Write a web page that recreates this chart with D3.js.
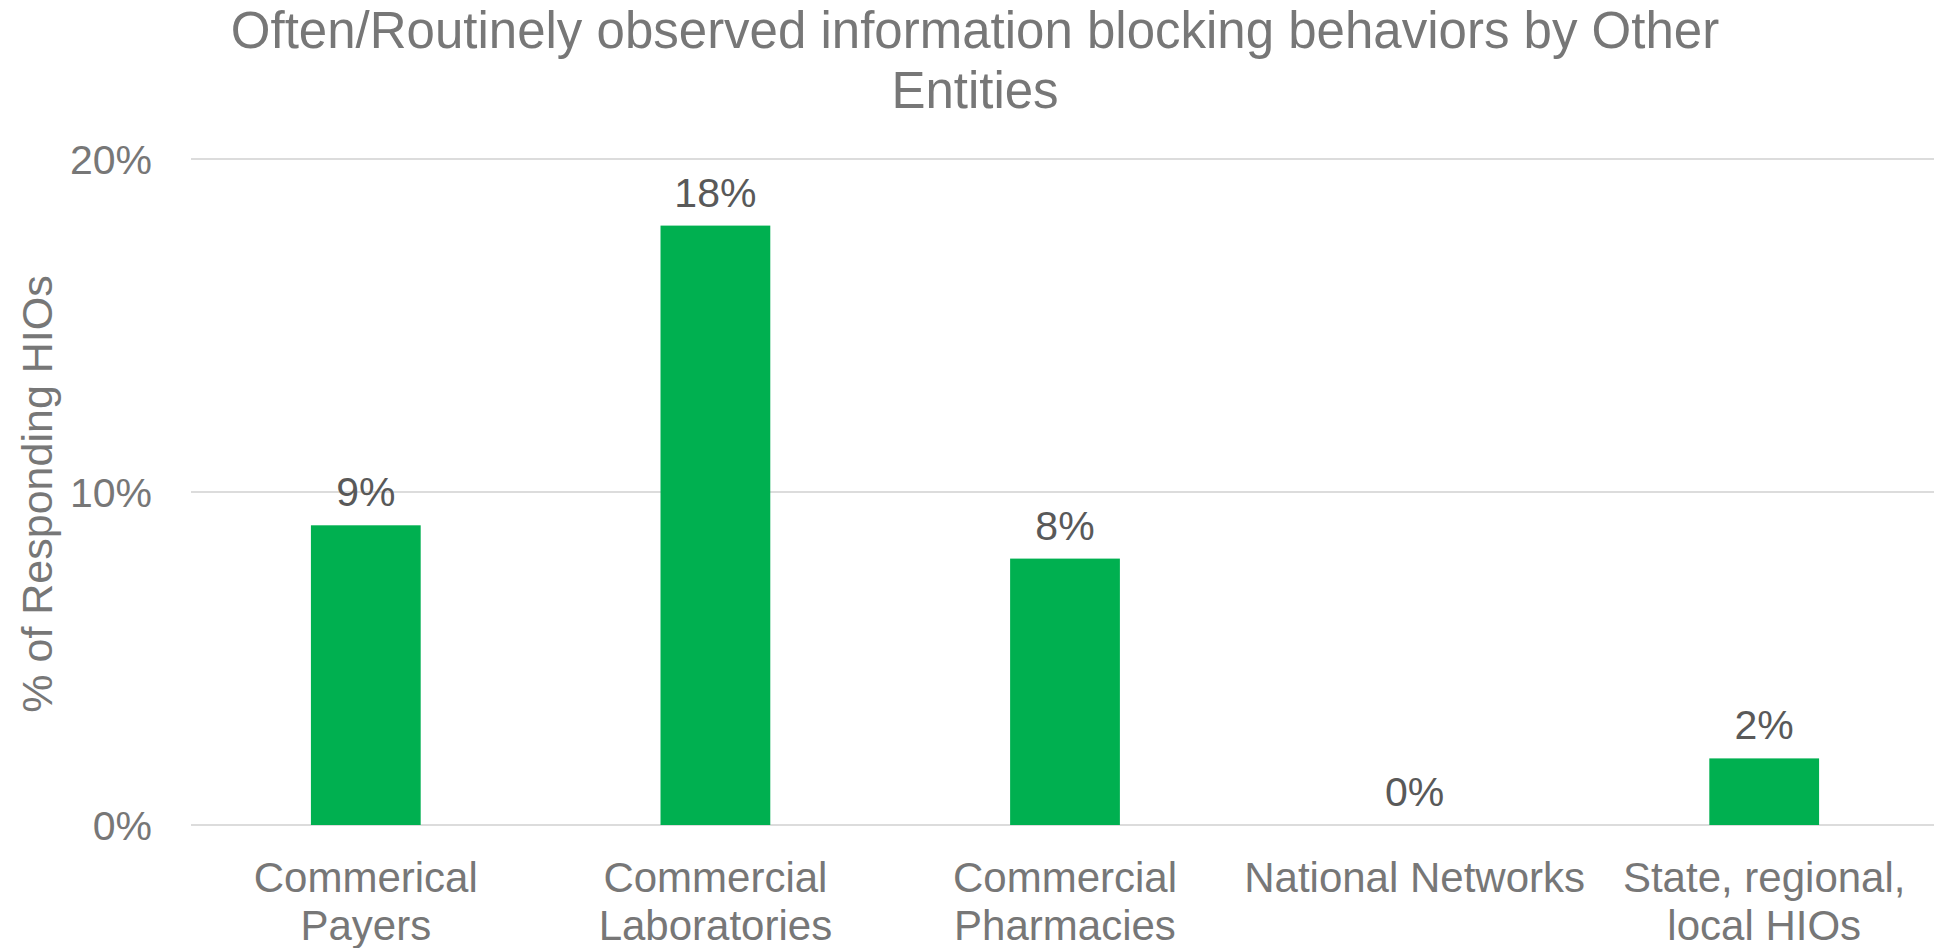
<!DOCTYPE html>
<html>
<head>
<meta charset="utf-8">
<script src="https://cdn.jsdelivr.net/npm/d3@7"></script>
<style>
  html, body { margin: 0; padding: 0; background: #ffffff; overflow: hidden; }
  svg { display: block; font-family: "Liberation Sans", Arial, sans-serif; }
</style>
</head>
<body>
<svg id="chart" width="1934" height="948"></svg>
<script>
// ---- data ----
const titleLines = ["Often/Routinely observed information blocking behaviors by Other", "Entities"];
const categories = ["Commerical Payers", "Commercial Laboratories", "Commercial Pharmacies", "National Networks", "State, regional, local HIOs"];
const categoryLines = [["Commerical", "Payers"], ["Commercial", "Laboratories"], ["Commercial", "Pharmacies"], ["National Networks"], ["State, regional,", "local HIOs"]];
const values = [9, 18, 8, 0, 2];
const yTicks = [0, 10, 20];
const yAxisTitle = "% of Responding HIOs";

// ---- layout ----
const W = 1934, H = 948;
const plot = { left: 191, right: 1939, top: 159, bottom: 825 };
const svg = d3.select("#chart");

const x = d3.scaleBand()
  .domain(categories)
  .range([plot.left, plot.right])
  .paddingInner(0.686)
  .paddingOuter(0.343);

const y = d3.scaleLinear().domain([0, 20]).range([plot.bottom, plot.top]);

const axisColor = "#777777";

// gridlines
svg.append("g")
  .selectAll("line")
  .data(yTicks)
  .join("line")
  .attr("x1", plot.left)
  .attr("x2", W)
  .attr("y1", d => y(d))
  .attr("y2", d => y(d))
  .attr("stroke", "#dcdcdc")
  .attr("stroke-width", 2);

// y tick labels
const yAxis = d3.axisLeft(y).tickValues(yTicks).tickFormat(d => d + "%").tickSize(0).tickPadding(0);
const yg = svg.append("g").attr("transform", `translate(${152},0)`).call(yAxis);
yg.select(".domain").remove();
yg.selectAll("text")
  .attr("fill", axisColor)
  .attr("font-size", 41)
  .attr("font-family", "'Liberation Sans', Arial, sans-serif")
  .attr("dy", "0.35em");

// bars
svg.append("g")
  .selectAll("rect")
  .data(values)
  .join("rect")
  .attr("x", (d, i) => x(categories[i]))
  .attr("width", x.bandwidth())
  .attr("y", d => y(d))
  .attr("height", d => y(0) - y(d))
  .attr("fill", "#00b050");

// data labels
svg.append("g")
  .selectAll("text")
  .data(values)
  .join("text")
  .attr("x", (d, i) => x(categories[i]) + x.bandwidth() / 2)
  .attr("y", d => y(d) - 19)
  .attr("text-anchor", "middle")
  .attr("font-size", 41)
  .attr("fill", "#595959")
  .text(d => d + "%");

// category labels
const cg = svg.append("g");
categoryLines.forEach((lines, i) => {
  const cx = x(categories[i]) + x.bandwidth() / 2;
  const t = cg.append("text")
    .attr("text-anchor", "middle")
    .attr("font-size", 42)
    .attr("fill", axisColor);
  lines.forEach((ln, j) => {
    t.append("tspan").attr("x", cx).attr("y", 892 + j * 48).text(ln);
  });
});

// y axis title
svg.append("text")
  .attr("transform", `translate(52,${(plot.top + plot.bottom) / 2 + 2}) rotate(-90)`)
  .attr("text-anchor", "middle")
  .attr("font-size", 43)
  .attr("fill", axisColor)
  .text(yAxisTitle);

// title
const tt = svg.append("text")
  .attr("text-anchor", "middle")
  .attr("font-size", 51)
  .attr("fill", axisColor);
titleLines.forEach((ln, j) => {
  tt.append("tspan").attr("x", 975).attr("y", 48 + j * 59.5).text(ln);
});
</script>
</body>
</html>
